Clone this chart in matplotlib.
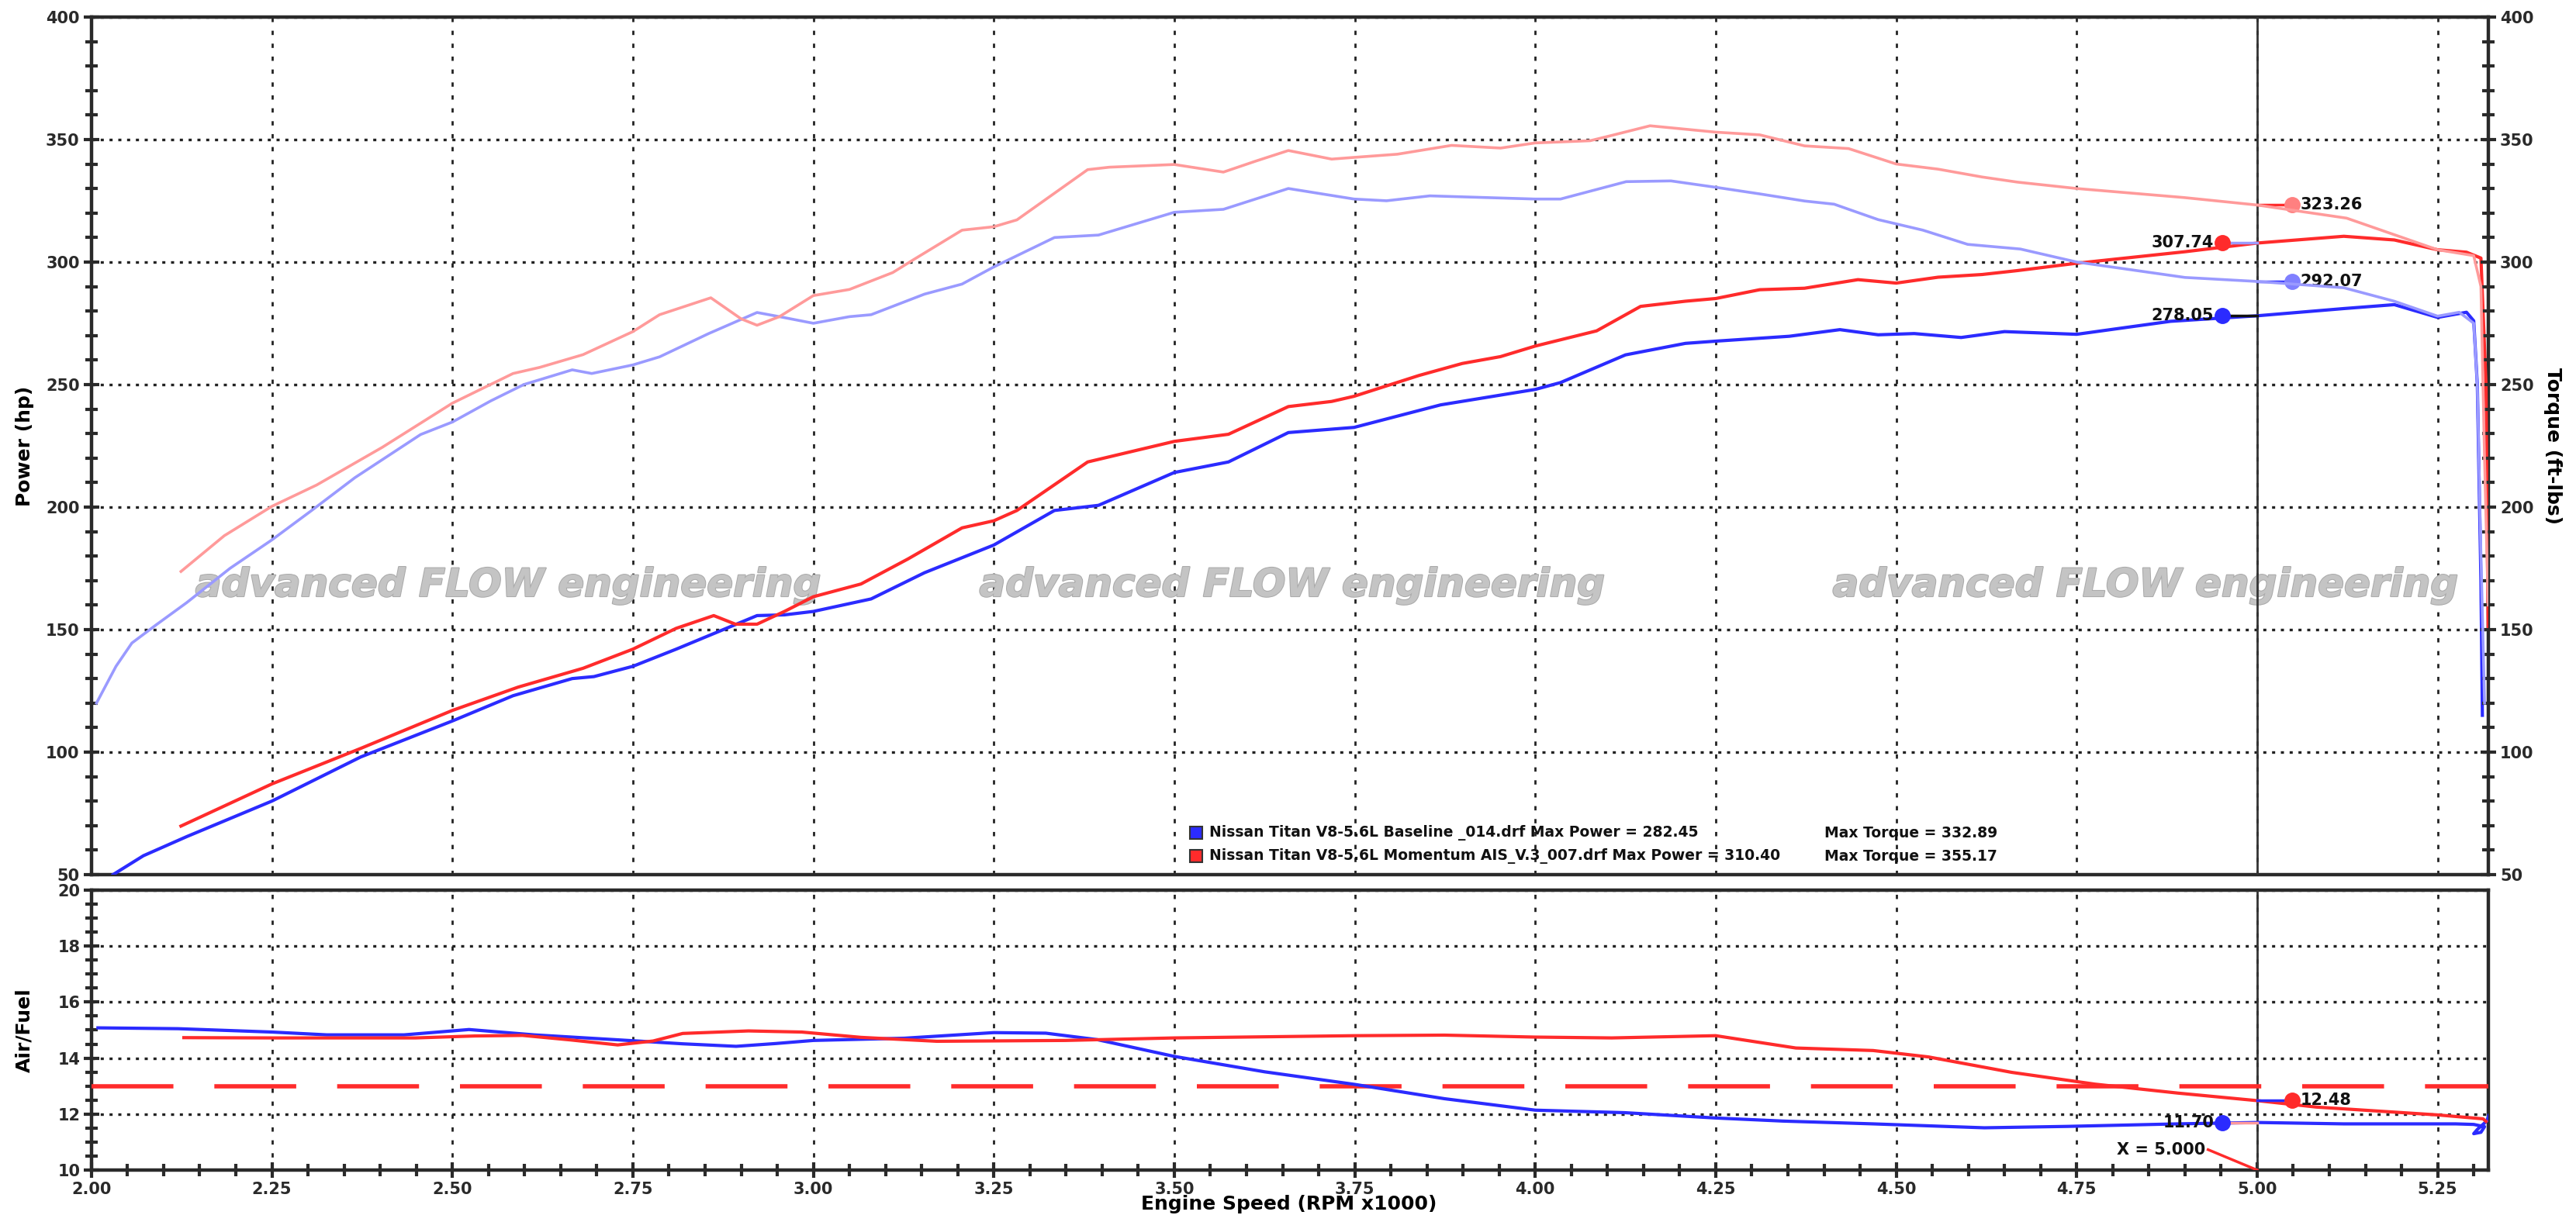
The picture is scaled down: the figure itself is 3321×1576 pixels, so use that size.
import numpy as np
import matplotlib.pyplot as plt
import matplotlib.patheffects as pe
from matplotlib.ticker import MultipleLocator

# ---- data (rpm x1000) ----
base_tq_rpm = [2.007, 2.034, 2.056, 2.09, 2.132, 2.192, 2.25, 2.305, 2.365, 2.456, 2.50, 2.553, 2.599,
               2.666, 2.693, 2.75, 2.787, 2.855, 2.922, 2.953, 3.0, 3.05, 3.08, 3.154, 3.206, 3.25, 3.334,
               3.395, 3.50, 3.568, 3.658, 3.749, 3.794, 3.854, 4.0, 4.035, 4.126, 4.188, 4.25, 4.311,
               4.373, 4.414, 4.475, 4.537, 4.599, 4.672, 4.75, 4.90, 5.0, 5.12, 5.19, 5.25, 5.28, 5.30,
               5.305, 5.31, 5.315]
base_tq = [120, 135, 144.5, 152, 161, 175, 186.6, 198.6, 212, 229.6, 234.7, 243.3, 250,
           256, 254.5, 258, 261.3, 270.8, 279.4, 277.7, 275, 277.7, 278.5, 286.9, 291, 298, 310,
           311, 320.3, 321.5, 330, 325.7, 325, 327, 325.7, 325.7, 332.8, 333.1, 330.5, 327.8,
           324.9, 323.6, 317.3, 313, 307.2, 305.3, 300, 293.7, 292.07, 289.5, 284, 277.9, 279.5, 275,
           250, 180, 120]

mod_tq_rpm = [2.124, 2.184, 2.25, 2.312, 2.403, 2.50, 2.584, 2.621, 2.681, 2.75, 2.787, 2.858, 2.90,
              2.922, 2.953, 3.0, 3.05, 3.11, 3.139, 3.206, 3.25, 3.282, 3.38, 3.41, 3.50, 3.568, 3.613,
              3.658, 3.718, 3.749, 3.809, 3.884, 3.952, 4.0, 4.076, 4.105, 4.159, 4.208, 4.25, 4.311,
              4.373, 4.434, 4.50, 4.558, 4.619, 4.668, 4.75, 4.899, 5.0, 5.124, 5.25, 5.30, 5.31,
              5.315, 5.32]
mod_tq = [173.7, 188.3, 200.3, 209, 224.4, 242.4, 254.5, 257, 262.2, 271.6, 278.5, 285.4, 276.8,
          274.2, 277.7, 286.3, 288.8, 295.7, 301, 313, 314.4, 317.2, 337.7, 338.7, 339.8, 336.7, 341.2,
          345.5, 342, 342.7, 344, 347.6, 346.5, 348.6, 349.5, 351.6, 355.6, 354.2, 353, 351.9,
          347.4, 346.3, 340, 337.9, 334.7, 332.6, 330, 326.3, 323.26, 317.9, 305, 302.6, 290,
          220, 160]

base_hp_rpm = [2.03, 2.072, 2.132, 2.25, 2.373, 2.50, 2.584, 2.666, 2.696, 2.75, 2.81, 2.922, 2.96,
               3.0, 3.08, 3.154, 3.25, 3.334, 3.395, 3.50, 3.575, 3.658, 3.749, 3.869, 4.0, 4.035,
               4.125, 4.208, 4.25, 4.352, 4.422, 4.475, 4.525, 4.59, 4.65, 4.75, 4.88, 5.0, 5.12,
               5.19, 5.25, 5.29, 5.30, 5.305, 5.31, 5.312]
base_hp = [50, 57.7, 65.5, 80, 98, 112.7, 123, 130, 130.8, 135, 142, 155.7, 156,
           157.4, 162.5, 173.2, 184.5, 198.6, 200.7, 214.1, 218.4, 230.4, 232.5, 241.7, 248, 250.8,
           262.1, 266.8, 267.7, 269.7, 272.4, 270.3, 270.8, 269.2, 271.6, 270.5, 275.8, 278.05, 281,
           282.6, 277.4, 279.5, 276, 250, 170, 115]

mod_hp_rpm = [2.124, 2.25, 2.373, 2.50, 2.591, 2.681, 2.75, 2.81, 2.862, 2.892, 2.922, 2.96, 3.0,
              3.066, 3.131, 3.206, 3.25, 3.282, 3.38, 3.50, 3.575, 3.658, 3.718, 3.749, 3.839, 3.899,
              3.952, 4.0, 4.085, 4.146, 4.208, 4.25, 4.311, 4.373, 4.447, 4.50, 4.558, 4.619, 4.668,
              4.75, 4.90, 5.0, 5.12, 5.19, 5.25, 5.29, 5.31, 5.317, 5.32]
mod_hp = [69.8, 87, 101.5, 117, 126.5, 134.2, 142, 150.5, 155.7, 152.2, 152.2, 157.4, 163.4,
          168.6, 178.8, 191.5, 194.4, 198.6, 218.4, 226.8, 229.7, 241, 243.1, 245.2, 253.7, 258.6,
          261.4, 265.7, 271.9, 281.9, 284, 285.1, 288.7, 289.3, 292.8, 291.4, 293.8, 294.9, 296.5,
          299.5, 304.2, 307.74, 310.5, 309, 305, 304, 301.6, 250, 150]

base_afr_rpm = [2.009, 2.12, 2.25, 2.326, 2.433, 2.523, 2.613, 2.75, 2.819, 2.893, 2.948, 3.0, 3.126,
                3.25, 3.322, 3.393, 3.50, 3.625, 3.75, 3.874, 4.0, 4.124, 4.25, 4.343, 4.468, 4.622,
                4.737, 4.89, 5.0, 5.12, 5.275, 5.30, 5.315, 5.31, 5.30, 5.305, 5.318, 5.321]
base_afr = [15.08, 15.05, 14.93, 14.83, 14.83, 15.02, 14.83, 14.62, 14.51, 14.42, 14.52, 14.63, 14.71,
            14.91, 14.89, 14.66, 14.06, 13.51, 13.06, 12.55, 12.14, 12.05, 11.86, 11.75, 11.65, 11.51,
            11.56, 11.65, 11.70, 11.65, 11.65, 11.63, 11.55, 11.35, 11.3, 11.45, 11.75, 11.95]

mod_afr_rpm = [2.128, 2.25, 2.449, 2.531, 2.597, 2.663, 2.729, 2.778, 2.819, 2.91, 2.984, 3.066, 3.171,
               3.349, 3.50, 3.75, 3.874, 4.0, 4.106, 4.25, 4.361, 4.468, 4.545, 4.66, 4.775, 4.89,
               5.0, 5.082, 5.25, 5.313, 5.317]
mod_afr = [14.73, 14.72, 14.72, 14.79, 14.81, 14.65, 14.47, 14.61, 14.88, 14.97, 14.93, 14.74, 14.6,
           14.63, 14.72, 14.8, 14.82, 14.75, 14.72, 14.8, 14.36, 14.27, 14.04, 13.49, 13.07, 12.75,
           12.48, 12.25, 11.97, 11.83, 11.74]

afr_target = 13.0
cursor_rpm = 5.0
cursor_hp = [307.74, 278.05]      # mod, base
cursor_tq = [323.26, 292.07]      # mod, base
cursor_afr = [12.48, 11.70]       # mod, base

legend_names = ["Nissan Titan V8-5.6L Baseline _014.drf Max Power = 282.45",
                "Nissan Titan V8-5.6L Momentum AIS_V.3_007.drf Max Power = 310.40"]
legend_torque = ["Max Torque = 332.89", "Max Torque = 355.17"]

BLUE = '#2b2bff'
RED = '#ff2b2b'
LBLUE = '#9a9aff'
LRED = '#ff9a9a'
FRAME = '#2a2a2a'

plt.rcParams['font.family'] = 'DejaVu Sans'
plt.rcParams['font.weight'] = 'bold'

fig = plt.figure(figsize=(33.21, 15.76), dpi=100)
ax1 = fig.add_axes([0.0355, 0.2843, 0.9304, 0.7018])
ax2 = fig.add_axes([0.0355, 0.0425, 0.9304, 0.2291])
ax1t = ax1.twinx()

shadow = [pe.SimplePatchShadow(offset=(3, -3), shadow_rgbFace='#888888', alpha=0.6), pe.Normal()]


def style_frame(ax):
    for s in ax.spines.values():
        s.set_linewidth(3.2)
        s.set_color(FRAME)
        s.set_path_effects(shadow)


for ax in (ax1, ax2):
    ax.set_xlim(2.0, 5.32)
    ax.xaxis.set_major_locator(MultipleLocator(0.25))
    ax.grid(True, axis='x', color='#222222', linestyle=(0, (2.0, 4.0)), linewidth=2.0)
    ax.grid(True, axis='y', color='#222222', linestyle=(0, (1.2, 2.2)), linewidth=2.4)
    ax.set_axisbelow(True)
    ax.axvline(cursor_rpm, color='#333333', linewidth=2.0, zorder=3)
    style_frame(ax)

# ---- upper panel: power (left) and torque (right) ----
ax1.set_ylim(50, 400)
ax1t.set_ylim(50, 400)
ax1.yaxis.set_major_locator(MultipleLocator(50))
ax1.yaxis.set_minor_locator(MultipleLocator(10))
ax1t.yaxis.set_major_locator(MultipleLocator(50))
ax1t.yaxis.set_minor_locator(MultipleLocator(10))
ax1.tick_params(axis='x', which='both', bottom=False, labelbottom=False)
ax1.tick_params(axis='y', which='major', direction='inout', length=14, width=3, labelsize=15, colors=FRAME, pad=4)
ax1.tick_params(axis='y', which='minor', direction='inout', length=12, width=3, colors=FRAME)
ax1t.tick_params(axis='y', which='major', direction='inout', length=14, width=3, labelsize=15, colors=FRAME, pad=4)
ax1t.tick_params(axis='y', which='minor', direction='inout', length=12, width=3, colors=FRAME)
for s in ax1t.spines.values():
    s.set_visible(False)

ax1.plot(base_hp_rpm, base_hp, color=BLUE, linewidth=3.0, zorder=5)
ax1.plot(mod_hp_rpm, mod_hp, color=RED, linewidth=3.0, zorder=5)
ax1t.plot(base_tq_rpm, base_tq, color=LBLUE, linewidth=2.6, zorder=4)
ax1t.plot(mod_tq_rpm, mod_tq, color=LRED, linewidth=2.6, zorder=4)

# watermark
for xc in (2.577, 3.663, 4.845):
    ax1.text(xc, 168, 'advanced FLOW engineering', ha='center', va='center', fontsize=36,
             style='italic', fontweight='bold', color='#c4c4c4', zorder=1,
             path_effects=[pe.withStroke(linewidth=1.5, foreground='#aaaaaa')])

# cursor readouts
dx = 0.048
ax1.plot([cursor_rpm - dx, cursor_rpm], [cursor_hp[0]] * 2, color=LBLUE, linewidth=2.5, zorder=6)
ax1.plot([cursor_rpm - dx, cursor_rpm], [cursor_hp[1]] * 2, color='#111111', linewidth=2.5, zorder=6)
ax1.plot([cursor_rpm - dx], [cursor_hp[0]], 'o', color=RED, markersize=14, zorder=7)
ax1.plot([cursor_rpm - dx], [cursor_hp[1]], 'o', color=BLUE, markersize=14, zorder=7)
ax1.plot([cursor_rpm, cursor_rpm + dx], [cursor_tq[0]] * 2, color=RED, linewidth=2.5, zorder=6)
ax1.plot([cursor_rpm, cursor_rpm + dx], [cursor_tq[1]] * 2, color=BLUE, linewidth=2.5, zorder=6)
ax1.plot([cursor_rpm + dx], [cursor_tq[0]], 'o', color='#ff8080', markersize=14, zorder=7)
ax1.plot([cursor_rpm + dx], [cursor_tq[1]], 'o', color='#8080ff', markersize=14, zorder=7)
for v in cursor_hp:
    ax1.text(cursor_rpm - dx - 0.012, v, f'{v:.2f}', ha='right', va='center', fontsize=15,
             fontweight='bold', color='#111111', zorder=8)
for v in cursor_tq:
    ax1.text(cursor_rpm + dx + 0.012, v, f'{v:.2f}', ha='left', va='center', fontsize=15,
             fontweight='bold', color='#111111', zorder=8)

# legend block
for yv, col, name, tq in zip([67, 57.5], [BLUE, RED], legend_names, legend_torque):
    ax1.plot([3.530], [yv], 's', color=col, markersize=12, markeredgecolor='#333333',
             markeredgewidth=1.5, zorder=8)
    ax1.text(3.548, yv, name, ha='left', va='center', fontsize=13.5, fontweight='bold',
             color='#111111', zorder=8)
    ax1.text(4.40, yv, tq, ha='left', va='center', fontsize=13.5, fontweight='bold',
             color='#111111', zorder=8)

# ---- lower panel: air/fuel ----
ax2.set_ylim(10, 20)
ax2.yaxis.set_major_locator(MultipleLocator(2))
ax2.yaxis.set_minor_locator(MultipleLocator(0.5))
ax2.xaxis.set_minor_locator(MultipleLocator(0.05))
ax2.tick_params(axis='both', which='major', direction='inout', length=14, width=3, labelsize=15, colors=FRAME)
ax2.tick_params(axis='both', which='minor', direction='inout', length=12, width=3, colors=FRAME)
ax2.tick_params(axis='x', pad=4)
ax2.set_xticklabels([f'{t:.2f}' for t in ax2.get_xticks()])

ax2.axhline(afr_target, color=RED, linewidth=4.0, linestyle=(0, (19, 9.5)), zorder=4)
ax2.plot(base_afr_rpm, base_afr, color=BLUE, linewidth=3.0, zorder=5)
ax2.plot(mod_afr_rpm, mod_afr, color=RED, linewidth=3.0, zorder=5)

ax2.plot([cursor_rpm, cursor_rpm + dx], [cursor_afr[0]] * 2, color=BLUE, linewidth=2.5, zorder=6)
ax2.plot([cursor_rpm - dx, cursor_rpm], [cursor_afr[1]] * 2, color=LRED, linewidth=2.5, zorder=6)
ax2.plot([cursor_rpm + dx], [cursor_afr[0]], 'o', color=RED, markersize=14, zorder=7)
ax2.plot([cursor_rpm - dx], [cursor_afr[1]], 'o', color=BLUE, markersize=14, zorder=7)
ax2.text(cursor_rpm + dx + 0.012, cursor_afr[0], f'{cursor_afr[0]:.2f}', ha='left', va='center',
         fontsize=15, fontweight='bold', color='#111111', zorder=8)
ax2.text(cursor_rpm - dx - 0.012, cursor_afr[1], f'{cursor_afr[1]:.2f}', ha='right', va='center',
         fontsize=15, fontweight='bold', color='#111111', zorder=8)
ax2.plot([4.932, cursor_rpm], [10.73, 10.0], color=RED, linewidth=2.5, zorder=6)
ax2.text(4.928, 10.73, f'X = {cursor_rpm:.3f}', ha='right', va='center', fontsize=15,
         fontweight='bold', color='#111111', zorder=8)

# ---- axis titles ----
fig.text(0.0095, 0.635, 'Power (hp)', rotation=90, ha='center', va='center', fontsize=18, fontweight='bold')
fig.text(0.991, 0.635, 'Torque (ft-lbs)', rotation=-90, ha='center', va='center', fontsize=18, fontweight='bold')
fig.text(0.0095, 0.157, 'Air/Fuel', rotation=90, ha='center', va='center', fontsize=18, fontweight='bold')
fig.text(0.5005, 0.0145, 'Engine Speed (RPM x1000)', ha='center', va='center', fontsize=18, fontweight='bold')

fig.savefig('out.png', dpi=100, facecolor='white')
